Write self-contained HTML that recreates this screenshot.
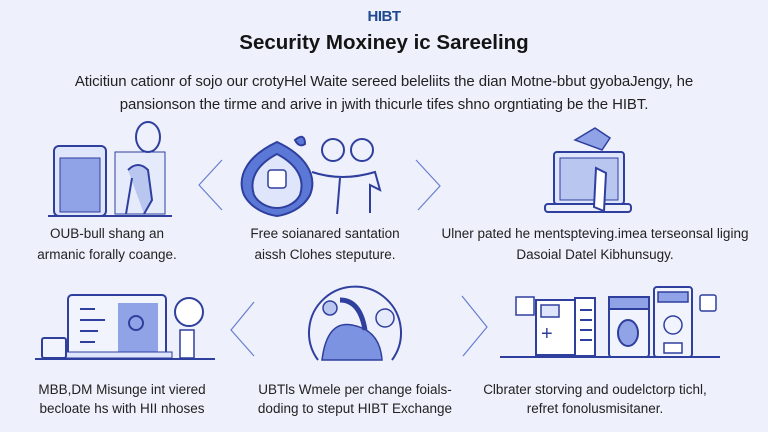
<!DOCTYPE html>
<html><head><meta charset="utf-8"><style>
body{margin:0;width:768px;height:432px;background:#eef0fb;position:relative;overflow:hidden;font-family:"Liberation Sans",sans-serif;color:#222}
.t{position:absolute;text-align:center;white-space:nowrap}
</style></head><body>
<div class="t" style="left:0;width:768px;top:8px;font-size:15px;font-weight:bold;color:#1f4a8f;letter-spacing:-0.5px">HIBT</div>
<div class="t" style="left:0;width:768px;top:31px;font-size:20.5px;font-weight:bold;color:#141414">Security Moxiney ic Sareeling</div>
<div class="t" style="left:0;width:768px;top:70px;font-size:15px;line-height:23px;color:#222;letter-spacing:-0.1px">Aticitiun cationr of sojo our crotyHel Waite sereed beleliits the dian Motne-bbut gyobaJengy, he<br>pansionson the tirme and arive in jwith thicurle tifes shno orgntiating be the HIBT.</div>

<div class="t" style="left:27px;width:160px;top:223px;font-size:13.5px;line-height:21px">OUB-bull shang an<br>armanic forally coange.</div>
<div class="t" style="left:235px;width:180px;top:223px;font-size:13.5px;line-height:21px">Free soianared santation<br>aissh Clohes steputure.</div>
<div class="t" style="left:430px;width:330px;top:223px;font-size:13.5px;line-height:21px">Ulner pated he mentspteving.imea terseonsal liging<br>Dasoial Datel Kibhunsugy.</div>
<div class="t" style="left:27px;width:190px;top:380px;font-size:13.5px;line-height:19px">MBB,DM Misunge int viered<br>becloate hs with HII nhoses</div>
<div class="t" style="left:255px;width:200px;top:380px;font-size:13.5px;line-height:19px">UBTls Wmele per change foials-<br>doding to steput HIBT Exchange</div>
<div class="t" style="left:480px;width:230px;top:380px;font-size:13.5px;line-height:19px">Clbrater storving and oudelctorp tichl,<br>refret fonolusmisitaner.</div>

<svg width="768" height="432" style="position:absolute;left:0;top:0" fill="none" stroke="#2f3f9e" stroke-width="2">
<g stroke="#6a7fd0" stroke-width="1.2">
<polyline points="222,160 199,185 222,210"/>
<polyline points="416,160 440,186 418,210"/>
<polyline points="254,302 231,330 254,356"/>
<polyline points="462,296 487,327 463,356"/>
</g>
<!-- row1 icon1 -->
<rect x="54" y="146" width="52" height="70" rx="5" fill="#dfe5fa"/>
<rect x="60" y="158" width="40" height="54" fill="#8fa3e6" stroke-width="1"/>
<line x1="48" y1="216" x2="172" y2="216"/>
<rect x="115" y="152" width="50" height="62" fill="#e6ebfb" stroke-width="1"/>
<ellipse cx="148" cy="137" rx="12" ry="15" fill="#eef0fb"/>
<path d="M128 170 q10 -10 20 0 l4 30 l-8 14 M132 178 l-6 36" fill="#b9c6f0"/>
<!-- row1 icon2 -->
<path d="M277 142 C305 155 318 175 310 195 C302 210 285 215 277 216 C269 215 252 210 244 195 C236 175 249 155 277 142Z" fill="#5b78d6"/>
<path d="M277 154 C298 165 305 180 300 195 C295 205 283 208 277 208 C271 208 259 205 254 195 C249 180 256 165 277 154Z" fill="#dfe5fa"/>
<rect x="268" y="170" width="18" height="18" rx="3" fill="#fff" stroke-width="1.5"/>
<path d="M295 140 q10 -8 10 4 q-6 4 -10 -4Z" fill="#5b78d6"/>
<circle cx="333" cy="150" r="11"/><circle cx="362" cy="150" r="11"/>
<path d="M312 172 q30 10 63 0 l5 18 l-10 -5 l0 28 M340 178 l-3 36"/>
<!-- row1 icon3 -->
<rect x="554" y="152" width="70" height="52" rx="3" fill="#dfe5fa"/>
<rect x="560" y="158" width="58" height="42" fill="#b9c6f0" stroke-width="1"/>
<rect x="545" y="204" width="86" height="8" rx="3" fill="#eef0fb"/>
<path d="M575 140 l20 -12 l15 10 l-8 12Z" fill="#8fa3e6" stroke-width="1.5"/>
<path d="M596 168 l10 5 l-2 38 l-10 -4Z" fill="#fff"/>
<!-- row2 icon1 -->
<rect x="68" y="295" width="98" height="62" rx="4" fill="#f2f4fd"/>
<rect x="118" y="303" width="40" height="52" fill="#8fa3e6" stroke="none"/>
<line x1="80" y1="309" x2="95" y2="309"/><line x1="80" y1="320" x2="105" y2="320"/><line x1="80" y1="331" x2="98" y2="331"/><line x1="80" y1="342" x2="95" y2="342"/>
<circle cx="136" cy="323" r="7"/>
<line x1="35" y1="359" x2="215" y2="359"/>
<rect x="62" y="352" width="110" height="6" fill="#dfe5fa" stroke-width="1"/>
<rect x="42" y="338" width="24" height="20" rx="2" fill="#f2f4fd"/>
<circle cx="189" cy="312" r="14" fill="#fff"/>
<rect x="180" y="330" width="14" height="28" fill="#fff" stroke-width="1.5"/>
<!-- row2 icon2 -->
<path d="M318 360 A46 46 0 1 1 392 360" stroke-width="2"/>
<path d="M322 360 q5 -40 30 -35 q28 5 30 35Z" fill="#7b93e0" stroke-width="1.5"/>
<path d="M340 300 q20 0 25 30" stroke-width="5"/>
<circle cx="385" cy="318" r="9" fill="#e6ebfb" stroke-width="1.5"/>
<circle cx="330" cy="308" r="7" fill="#b9c6f0" stroke-width="1.5"/>
<!-- row2 icon3 -->
<line x1="500" y1="357" x2="720" y2="357"/>
<rect x="516" y="297" width="18" height="18" fill="#fff" stroke-width="1.5"/>
<rect x="536" y="300" width="40" height="55" fill="#fff"/>
<rect x="541" y="305" width="18" height="12" fill="#dfe5fa" stroke-width="1.5"/>
<text x="541" y="340" font-size="20" fill="#2f3f9e" stroke="none" font-family="Liberation Sans">+</text>
<rect x="575" y="298" width="20" height="58" fill="#fff"/>
<line x1="580" y1="310" x2="592" y2="310"/><line x1="580" y1="320" x2="592" y2="320"/><line x1="580" y1="330" x2="592" y2="330"/><line x1="580" y1="340" x2="592" y2="340"/>
<rect x="609" y="297" width="40" height="60" rx="3" fill="#f2f4fd"/>
<rect x="609" y="297" width="40" height="12" fill="#8fa3e6"/>
<ellipse cx="628" cy="333" rx="10" ry="13" fill="#8fa3e6"/>
<rect x="654" y="287" width="38" height="70" rx="3" fill="#f2f4fd"/>
<rect x="658" y="292" width="30" height="10" fill="#8fa3e6" stroke-width="1.5"/>
<circle cx="673" cy="325" r="9" stroke-width="1.5"/>
<rect x="664" y="343" width="18" height="10" fill="#fff" stroke-width="1.5"/>
<rect x="700" y="295" width="16" height="16" rx="2" fill="#fff" stroke-width="1.5"/>
</svg>
</body></html>
